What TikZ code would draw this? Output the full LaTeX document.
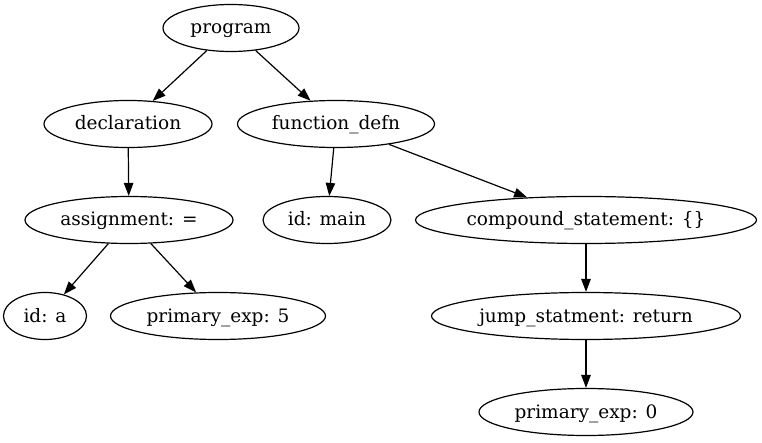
\documentclass[tikz,border=0pt]{standalone}
\usepackage{fontspec}
\setmainfont{DejaVu Serif}
\usetikzlibrary{shapes.geometric, arrows.meta, positioning}

\begin{document}
\begin{tikzpicture}[x=1pt, y=-1pt, line width=1.2pt,
  treenode/.style={draw, ellipse, inner sep=0pt, minimum height=47pt,
    text height=15pt, text depth=3pt,
    font=\fontsize{18.5pt}{22pt}\selectfont},
  edge/.style={-{Triangle[length=13pt, width=9.5pt]}}]
  \useasboundingbox (0,0) rectangle (762,443);
  % row 0
  \node[treenode, minimum width=136pt] (program) at (231,28) {program};
  % row 1
  \node[treenode, minimum width=168pt] (decl) at (128,124) {declaration};
  \node[treenode, minimum width=197pt] (fdefn) at (336,124) {function\_defn};
  % row 2
  \node[treenode, minimum width=208pt] (assign) at (129,220) {assignment: =};
  \node[treenode, minimum width=128pt] (idmain) at (327,220) {id: main};
  \node[treenode, minimum width=341pt] (compound) at (586,220) {compound\_statement: \{\}};
  % row 3
  \node[treenode, minimum width=83pt] (ida) at (45,316) {id: a};
  \node[treenode, minimum width=215pt] (prim5) at (218,316) {primary\_exp: 5};
  \node[treenode, minimum width=309pt] (jump) at (586,316) {jump\_statment: return};
  % row 4
  \node[treenode, minimum width=214pt] (prim0) at (586,412) {primary\_exp: 0};
  % edges
  \draw[edge] (program) -- (decl);
  \draw[edge] (program) -- (fdefn);
  \draw[edge] (decl) -- (assign);
  \draw[edge] (fdefn) -- (idmain);
  \draw[edge] (fdefn) -- (compound);
  \draw[edge] (assign) -- (ida);
  \draw[edge] (assign) -- (prim5);
  \draw[edge] (compound) -- (jump);
  \draw[edge] (jump) -- (prim0);
\end{tikzpicture}
\end{document}
